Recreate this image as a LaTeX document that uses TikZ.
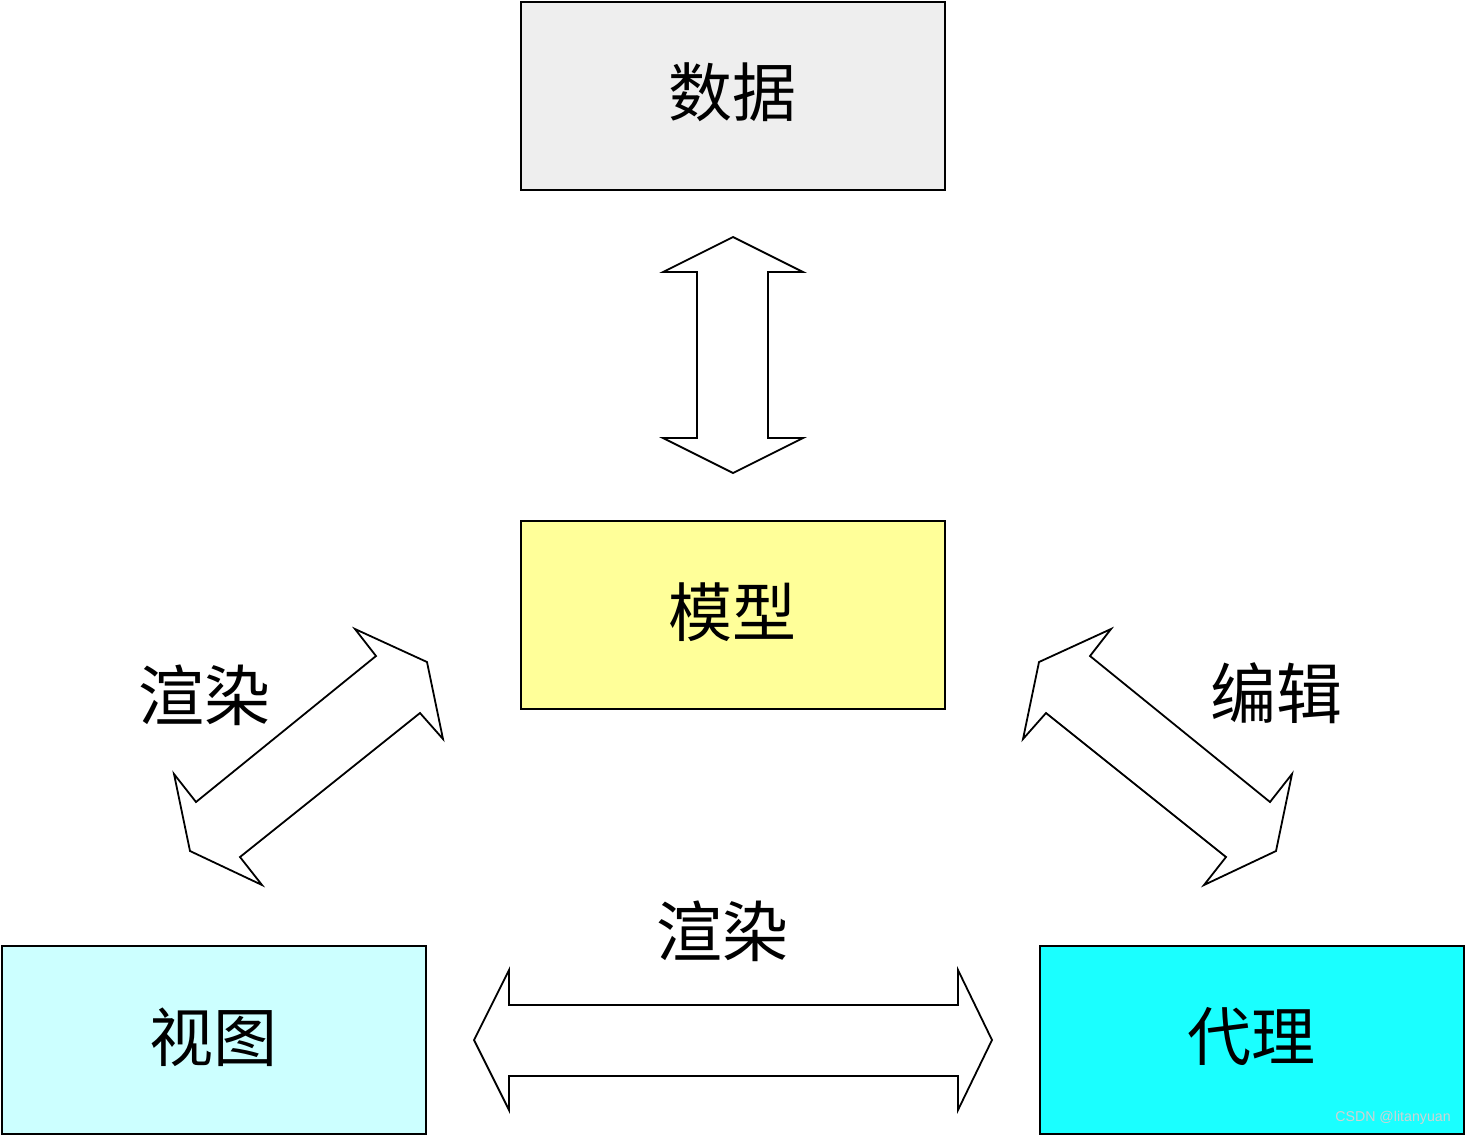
\documentclass[tikz,border=0pt]{standalone}
\usepackage{fontspec}
\newfontfamily\cjk{Noto Sans CJK SC}
\setsansfont{Liberation Sans}
\begin{document}
\begin{tikzpicture}[x=0.5pt,y=-0.5pt,
  box/.style={draw=black,line width=0.8pt,minimum width=212pt,minimum height=94pt,inner sep=0pt},
  boxtext/.style={font=\cjk\fontsize{32}{36}\selectfont,inner sep=0pt},
  blockarrow/.style={draw=black,fill=white,line width=0.9pt,line join=miter},
  lbl/.style={font=\cjk\fontsize{33}{38}\selectfont,inner sep=0pt}]
\definecolor{cgray}{HTML}{EEEEEE}
\definecolor{cyellow}{HTML}{FFFF99}
\definecolor{clcyan}{HTML}{CCFFFF}
\definecolor{ccyan}{HTML}{1AFFFF}
\useasboundingbox[fill=white] (0,0) rectangle (1466,1136);
\node[box,fill=cgray] (data) at (733,96) {};
\node[box,fill=cyellow] (model) at (733,615) {};
\node[box,fill=clcyan] (view) at (214,1040) {};
\node[box,fill=ccyan] (proxy) at (1252,1040) {};
\node[boxtext] (tdata) at (732,92) {数据};
\node[boxtext] (tmodel) at (732,612) {模型};
\node[boxtext] (tview) at (213,1037) {视图};
\node[boxtext] (tproxy) at (1251,1037) {代理};
% vertical double arrow
\draw[blockarrow] (733,237) -- (803,272) -- (768,272) -- (768,438) -- (803,438) -- (733,473)
  -- (663,438) -- (697,438) -- (697,272) -- (663,272) -- cycle;
% horizontal double arrow
\draw[blockarrow] (474,1040) -- (509,970) -- (509,1005) -- (958,1005) -- (958,970) -- (992,1040)
  -- (958,1110) -- (958,1076) -- (509,1076) -- (509,1110) -- cycle;
% left diagonal arrow
\draw[blockarrow] (355,629) -- (427,662) -- (443,739) -- (420,713) -- (240,857) -- (262,885)
  -- (190,851) -- (174,774) -- (196,802) -- (376,656) -- cycle;
% right diagonal arrow
\draw[blockarrow] (1111,629) -- (1039,662) -- (1023,739) -- (1046,713) -- (1226,857) -- (1204,885)
  -- (1276,851) -- (1292,774) -- (1270,802) -- (1090,656) -- cycle;
\node[lbl] (r1) at (204,695) {渲染};
\node[lbl] (e1) at (1276,693) {编辑};
\node[lbl] (r2) at (722,931) {渲染};
\node[font=\sffamily\fontsize{7.1}{9}\selectfont,text=gray!35,inner sep=0pt] (wm) at (1393,1118) {CSDN @litanyuan};
\end{tikzpicture}
\end{document}
